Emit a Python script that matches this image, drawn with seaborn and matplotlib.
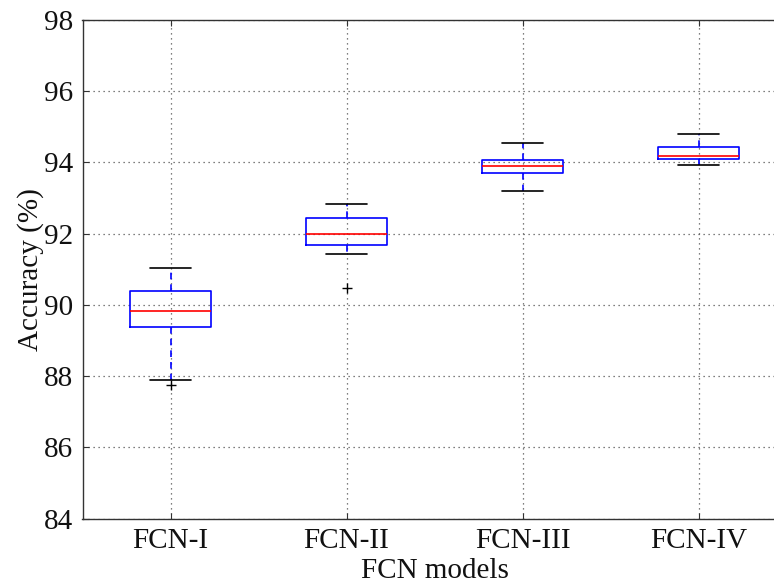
import matplotlib
matplotlib.use("Agg")
import matplotlib.pyplot as plt
import seaborn as sns
import pandas as pd

# Accuracy (%) of each FCN variant over repeated runs
models = ["FCN-I", "FCN-II", "FCN-III", "FCN-IV"]
fcn_1 = [87.74, 87.88, 89.37, 89.60, 89.82, 90.10, 90.38, 90.70, 91.03]
fcn_2 = [90.47, 91.42, 91.67, 91.85, 92.00, 92.20, 92.45, 92.65, 92.84]
fcn_3 = [93.21, 93.50, 93.69, 93.80, 93.89, 94.00, 94.08, 94.30, 94.55]
fcn_4 = [93.92, 94.00, 94.11, 94.15, 94.19, 94.30, 94.42, 94.60, 94.79]
y_ticks = [84, 86, 88, 90, 92, 94, 96, 98]

df = pd.DataFrame({
    "model": sum([[m] * 9 for m in models], []),
    "acc": fcn_1 + fcn_2 + fcn_3 + fcn_4,
})

sns.set_style("white")
plt.rcParams["font.family"] = ["Liberation Serif", "DejaVu Serif"]

fig = plt.figure(figsize=(7.74, 5.84), dpi=100)
# the plot area runs slightly past the right edge of the canvas
ax = fig.add_axes([82.5 / 774, 1 - 518.5 / 584, 704 / 774, 498.5 / 584])

sns.boxplot(
    data=df, x="model", y="acc", order=models, ax=ax,
    width=0.455, fill=False, whis=1.5,
    boxprops=dict(color="#0000ff", linewidth=1.2),
    medianprops=dict(color="#ff0000", linewidth=1.2),
    whiskerprops=dict(color="#0000ff", linestyle=(0, (4, 3)), linewidth=1.2),
    capprops=dict(color="black", linewidth=1.2),
    flierprops=dict(marker="+", markeredgecolor="black", markersize=7,
                    markeredgewidth=1.0),
)

ax.set_ylim(84, 98)
ax.set_yticks(y_ticks)
ax.set_xlim(-0.5, 3.5)
ax.grid(True, color="#555555", linestyle=(0, (1, 3)), linewidth=0.9)
ax.set_axisbelow(True)
for s in ax.spines.values():
    s.set_color("#333333")
    s.set_linewidth(1.0)
ax.tick_params(direction="in", length=4, width=0.8, colors="#333333",
               labelsize=21, labelcolor="#111111", pad=7,
               top=True, right=True, bottom=True, left=True)
ax.set_xlabel("FCN models", fontsize=21, labelpad=2.5, color="#111111")
ax.set_ylabel("Accuracy (%)", fontsize=21, labelpad=0, color="#111111")

fig.savefig("out.png", dpi=100)
